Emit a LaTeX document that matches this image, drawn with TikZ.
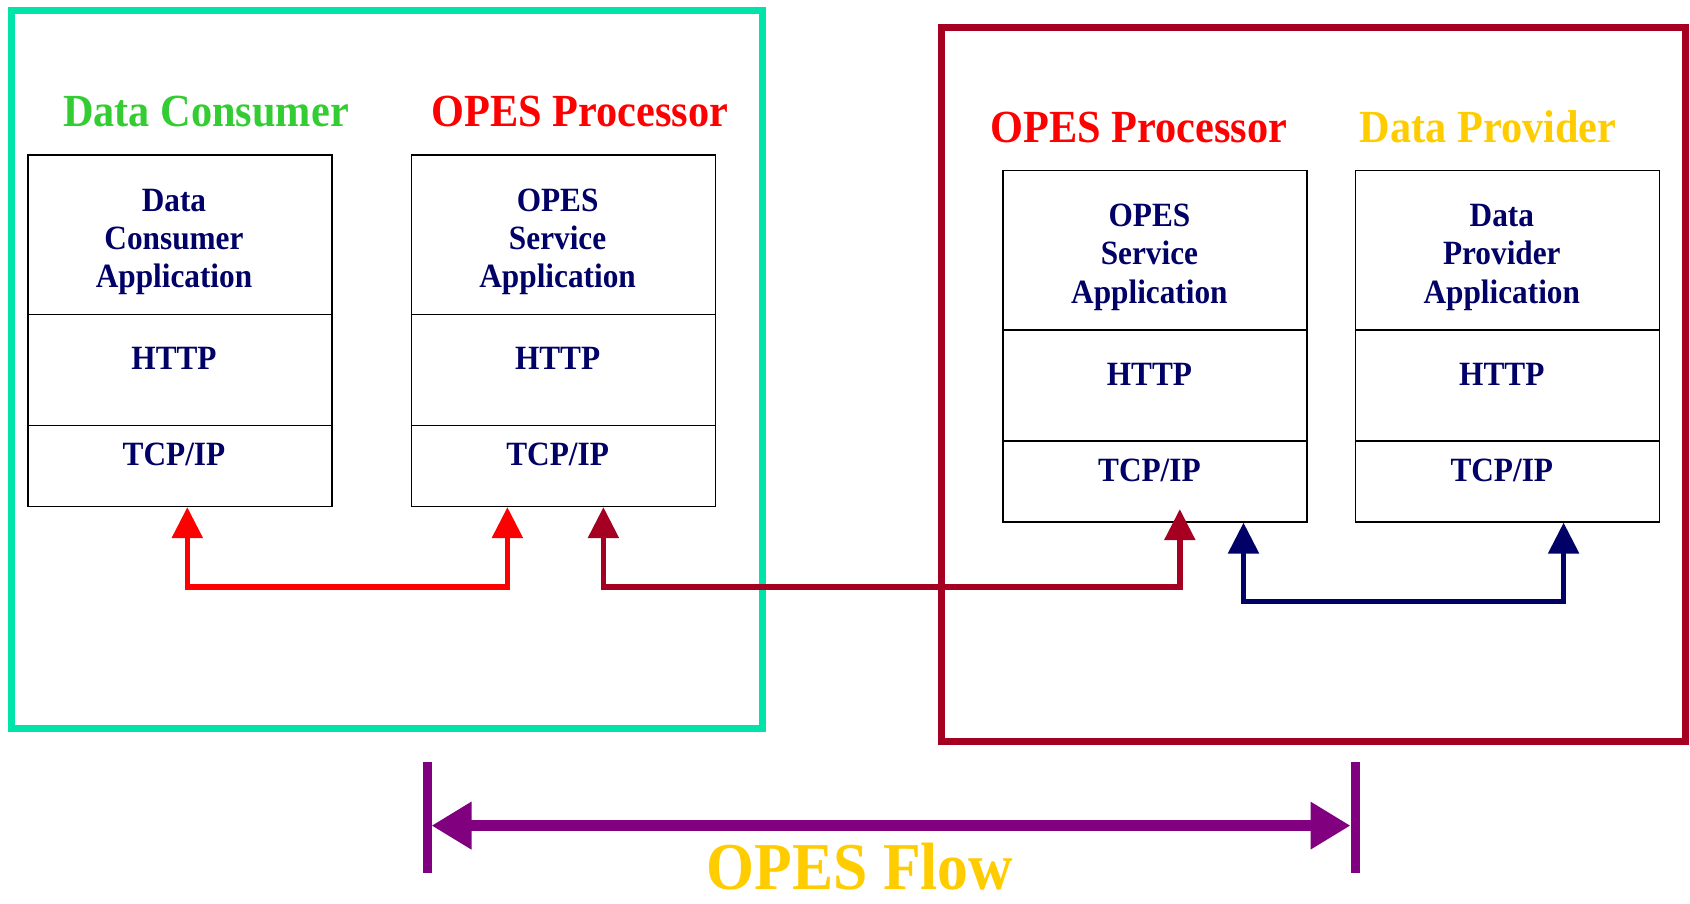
\documentclass[tikz,border=0pt]{standalone}
\usepackage{fontspec}
\setmainfont{Liberation Serif}
\newfontfamily\condfont{Liberation Serif}[FakeStretch=0.92]
\usetikzlibrary{arrows.meta}
\definecolor{framegreen}{RGB}{0,228,170}
\definecolor{framered}{RGB}{165,0,33}
\definecolor{titlegreen}{RGB}{51,204,51}
\definecolor{titlered}{RGB}{255,0,0}
\definecolor{titlegold}{RGB}{255,204,0}
\definecolor{textnavy}{RGB}{0,0,102}
\definecolor{flowpurple}{RGB}{128,0,128}
\begin{document}
\begin{tikzpicture}[x=1pt,y=-1pt,
  layer/.style={draw=black, line width=1.6pt, minimum width=304pt, inner sep=0pt, anchor=north west},
  apptext/.style={font=\condfont\bfseries\fontsize{34}{38.3}\selectfont, text=textnavy, align=center, anchor=base, inner sep=0pt},
  title/.style={font=\condfont\bfseries\fontsize{46}{50}\selectfont, anchor=base, inner sep=0pt},
  conn/.style={line width=5.5pt, line join=miter, {Triangle[length=31pt,width=30pt]}-{Triangle[length=31pt,width=30pt]}},
  frame/.style={line width=7pt}
]
\useasboundingbox (0,0) rectangle (1690,903);

% frames
\draw[frame, framegreen] (11.5,10.5) rectangle (762,728.5);
\draw[frame, framered] (941,27) rectangle (1685,741.5);

% titles
\node[title, text=titlegreen] (t1) at (206,126) {Data Consumer};
\node[title, text=titlered] (t2) at (580,126) {OPES Processor};
\node[title, text=titlered] (t3) at (1139,142.3) {OPES Processor};
\node[title, text=titlegold] (t4) at (1488,142.3) {Data Provider};

% stack 1
\node[layer, minimum height=159.6pt] (c1a) at (27,154) {};
\node[layer, minimum height=111.1pt] (c1h) at (27,313.6) {};
\node[layer, minimum height=80.8pt] (c1t) at (27,424.7) {};
% stack 2
\node[layer, minimum height=159.6pt] (c2a) at (410.6,154) {};
\node[layer, minimum height=111.1pt] (c2h) at (410.6,313.6) {};
\node[layer, minimum height=80.8pt] (c2t) at (410.6,424.7) {};
% stack 3
\node[layer, minimum height=159.6pt] (c3a) at (1002.4,169.5) {};
\node[layer, minimum height=111.1pt] (c3h) at (1002.4,329.1) {};
\node[layer, minimum height=80.8pt] (c3t) at (1002.4,440.2) {};
% stack 4
\node[layer, minimum height=159.6pt] (c4a) at (1354.8,169.5) {};
\node[layer, minimum height=111.1pt] (c4h) at (1354.8,329.1) {};
\node[layer, minimum height=80.8pt] (c4t) at (1354.8,440.2) {};

% texts (anchor base = baseline of the last line)
\node[apptext] (x1a) at (174,287.7) {Data\\Consumer\\Application};
\node[apptext] (x1h) at (174,369.7) {HTTP};
\node[apptext] (x1t) at (174,465.6) {TCP/IP};
\node[apptext] (x2a) at (557.6,287.7) {OPES\\Service\\Application};
\node[apptext] (x2h) at (557.6,369.7) {HTTP};
\node[apptext] (x2t) at (557.6,465.6) {TCP/IP};
\node[apptext] (x3a) at (1149.4,303.2) {OPES\\Service\\Application};
\node[apptext] (x3h) at (1149.4,385.2) {HTTP};
\node[apptext] (x3t) at (1149.4,481.1) {TCP/IP};
\node[apptext] (x4a) at (1501.8,303.2) {Data\\Provider\\Application};
\node[apptext] (x4h) at (1501.8,385.2) {HTTP};
\node[apptext] (x4t) at (1501.8,481.1) {TCP/IP};

% connector end points
\coordinate (r1) at ([xshift=7.5pt]c1t.south);
\coordinate (r2) at ([xshift=-56pt]c2t.south);
\coordinate (d1) at ([xshift=40pt]c2t.south);
\coordinate (d2) at ([xshift=24.6pt,yshift=13.5pt]c3t.south);
\coordinate (n1) at ([xshift=88.3pt]c3t.south);
\coordinate (n2) at ([xshift=56pt]c4t.south);

\draw[conn, titlered] (r1) -- ++(0,80) -| (r2);
\draw[conn, framered] (d1) -- ++(0,80) -| (d2);
\draw[conn, textnavy] (n1) -- ++(0,79) -| (n2);

% OPES flow
\coordinate (b1t) at (427,762);
\coordinate (b1b) at (427,873);
\coordinate (b2t) at (1355,762);
\coordinate (b2b) at (1355,873);
\draw[flowpurple, line width=9pt] (b1t) -- (b1b);
\draw[flowpurple, line width=9pt] (b2t) -- (b2b);
\coordinate (fl) at (431.5,825.6);
\coordinate (fr) at (1350.5,825.6);
\draw[flowpurple, line width=11pt, {Triangle[length=40pt,width=45pt]}-{Triangle[length=40pt,width=45pt]}] (fl) -- (fr);
\node[font=\condfont\bfseries\fontsize{67}{70}\selectfont, text=titlegold, anchor=base, inner sep=0pt] (flow) at (860,889) {OPES Flow};
\end{tikzpicture}
\end{document}
